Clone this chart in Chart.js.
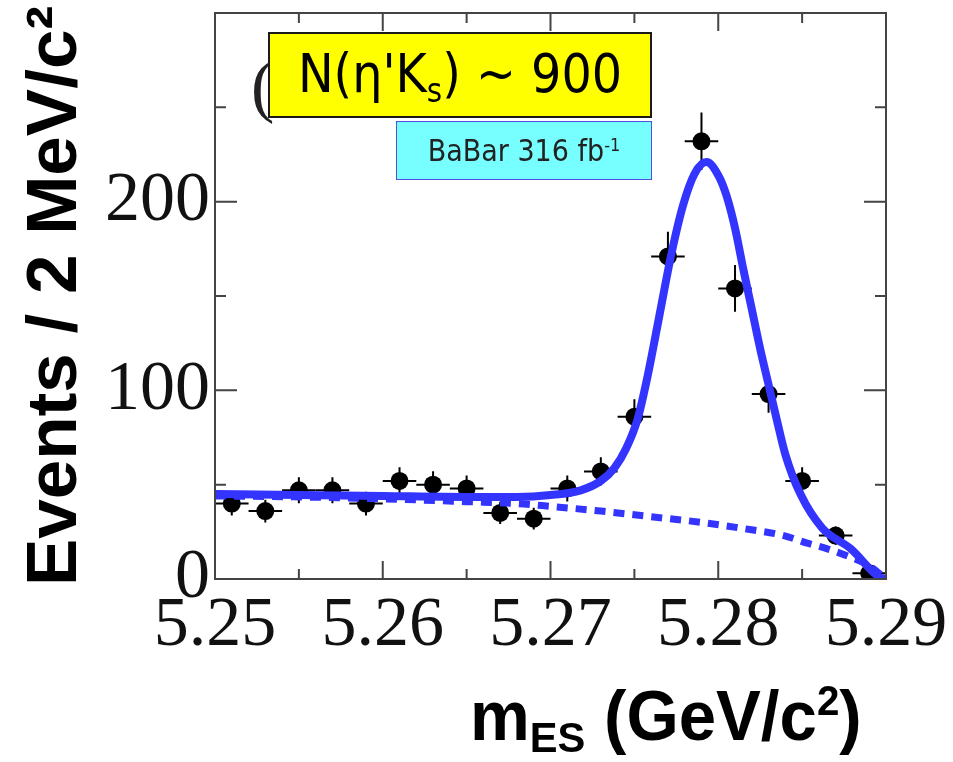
<!DOCTYPE html>
<html>
<head>
<meta charset="utf-8">
<title>mES fit</title>
<script src="https://cdn.jsdelivr.net/npm/chart.js@4.4.0/dist/chart.umd.min.js"></script>
<style>
  body { margin: 0; background: #fff; }
  #wrap { position: relative; width: 953px; height: 762px; overflow: hidden; }
  #mes { position: absolute; left: 0; top: 0; }
  .box {
    position: absolute; box-sizing: border-box; display: flex;
    align-items: center; justify-content: center; white-space: nowrap;
    font-family: "DejaVu Sans Condensed", "DejaVu Sans", sans-serif;
  }
  #yield { left: 268px; top: 32px; width: 384px; height: 86px; background: #ffff00;
           border: 2px solid #1a1a1a; font-size: 53px; color: #000; padding-bottom: 4px; }
  #lumi { left: 396px; top: 121px; width: 256px; height: 59px; background: #77ffff;
          border: 1.5px solid #5050e0; font-size: 30px; color: #222; }
  .box sub { font-size: 0.62em; vertical-align: -0.3em; line-height: 0; }
  .box sup { font-size: 0.6em; vertical-align: 0.55em; line-height: 0; }
  #xtitle { position: absolute; left: 470px; top: 676px; line-height: 70px; white-space: nowrap;
            font: bold 70px "Liberation Sans", Arial, sans-serif; color: #000;
            transform: scaleX(0.96); transform-origin: left top; }
  #xtitle sub { font-size: 0.62em; vertical-align: -0.28em; line-height: 0; }
  #xtitle sup { font-size: 0.6em; vertical-align: 0.6em; line-height: 0; }
  #paren { position: absolute; left: 251px; top: 46px; line-height: 70px;
           font: 70px "Liberation Serif", serif; color: #222; }
</style>
</head>
<body>
<div id="wrap">
  <canvas id="mes" width="953" height="762"></canvas>
  <div id="paren">(</div>
  <div class="box" id="yield"><span>N(η'K<sub>s</sub>) ~ 900</span></div>
  <div class="box" id="lumi"><span>BaBar 316 fb<sup>-1</sup></span></div>
  <div id="xtitle">m<sub>ES</sub> (GeV/c<sup>2</sup>)</div>
</div>
<script>
// 2 MeV bins, events per bin and their errors
let binCenters = [5.251, 5.253, 5.255, 5.257, 5.259, 5.261, 5.263, 5.265, 5.267, 5.269,
                  5.271, 5.273, 5.275, 5.277, 5.279, 5.281, 5.283, 5.285, 5.287, 5.289];
let events = [40, 36, 47, 47, 40, 52, 50, 48, 35, 32, 48, 57, 86, 171, 232, 154, 98, 52, 23, 3];
let eventErrors = [6.3, 6, 6.9, 6.9, 6.3, 7.2, 7.1, 6.9, 5.9, 5.7,
                   6.9, 7.5, 9.3, 13, 15.2, 12.4, 9.9, 7.2, 4.8, 1.7];
let binHalfWidth = 0.001;

// fit curve: signal + background
let fitX = [5.250, 5.255, 5.260, 5.265, 5.268, 5.270, 5.2718, 5.273, 5.2738, 5.2745,
            5.2752, 5.2758, 5.2765, 5.2772, 5.2779, 5.2786, 5.2793, 5.2800, 5.2805, 5.2810,
            5.2815, 5.2820, 5.2825, 5.2830, 5.2835, 5.2840, 5.2849, 5.2862, 5.2879, 5.2896, 5.290];
let fitY = [45, 44.5, 44, 43.5, 43.5, 44.5, 47, 52, 58.7, 69,
            85, 108, 140, 172, 198, 215, 221, 214, 203, 186,
            164, 143, 122, 103, 84, 66, 45, 27, 16, 1, 0];

// background only (dashed)
let bkgX = [5.250, 5.255, 5.260, 5.265, 5.268, 5.270, 5.273, 5.276, 5.279, 5.2813,
            5.2839, 5.2853, 5.2865, 5.2879, 5.289, 5.290];
let bkgY = [44, 43.5, 42.5, 41, 40, 38.5, 36, 33, 30, 27, 23, 19, 16, 11.5, 7, 0];

let xMajor = [5.25, 5.26, 5.27, 5.28, 5.29];
let xMinor = [5.255, 5.265, 5.275, 5.285];
let yMajor = [0, 100, 200];
let yMinor = [50, 150, 250];

const blue = '#3434ff';

function pairs(xs, ys) {
  return xs.map((x, i) => ({ x: x, y: ys[i] }));
}

// error bars under the markers
const errorBars = {
  id: 'errorBars',
  beforeDatasetsDraw(chart) {
    const ctx = chart.ctx, xs = chart.scales.x, ys = chart.scales.y;
    const area = chart.chartArea;
    ctx.save();
    ctx.beginPath();
    ctx.rect(area.left, area.top, area.right - area.left, area.bottom - area.top);
    ctx.clip();
    ctx.strokeStyle = '#000';
    ctx.lineWidth = 2;
    binCenters.forEach((c, i) => {
      const px = xs.getPixelForValue(c);
      const py = ys.getPixelForValue(events[i]);
      ctx.beginPath();
      ctx.moveTo(xs.getPixelForValue(c - binHalfWidth), py);
      ctx.lineTo(xs.getPixelForValue(c + binHalfWidth), py);
      ctx.moveTo(px, ys.getPixelForValue(events[i] + eventErrors[i]));
      ctx.lineTo(px, ys.getPixelForValue(Math.max(0, events[i] - eventErrors[i])));
      ctx.stroke();
    });
    ctx.restore();
  }
};

// closed frame with inward ticks on all four sides
const frame = {
  id: 'frame',
  afterDatasetsDraw(chart) {
    const ctx = chart.ctx, xs = chart.scales.x, ys = chart.scales.y;
    const { left, right, top, bottom } = chart.chartArea;
    ctx.save();
    ctx.strokeStyle = '#444';
    ctx.lineWidth = 2;
    ctx.strokeRect(left, top, right - left, bottom - top);
    ctx.beginPath();
    const xTick = (v, len) => {
      const p = xs.getPixelForValue(v);
      ctx.moveTo(p, bottom); ctx.lineTo(p, bottom - len);
      ctx.moveTo(p, top); ctx.lineTo(p, top + len);
    };
    const yTick = (v, len) => {
      const p = ys.getPixelForValue(v);
      ctx.moveTo(left, p); ctx.lineTo(left + len, p);
      ctx.moveTo(right, p); ctx.lineTo(right - len, p);
    };
    xMajor.forEach(v => xTick(v, 18));
    xMinor.forEach(v => xTick(v, 10));
    yMajor.forEach(v => yTick(v, 22));
    yMinor.forEach(v => yTick(v, 11));
    ctx.stroke();
    ctx.restore();
  }
};

new Chart(document.getElementById('mes'), {
  type: 'scatter',
  data: {
    datasets: [{
      type: 'line',
      data: pairs(fitX, fitY),
      borderColor: blue,
      borderWidth: 8,
      pointRadius: 0,
      fill: false,
      cubicInterpolationMode: 'monotone',
      order: 1
    }, {
      type: 'line',
      data: pairs(bkgX, bkgY),
      borderColor: blue,
      borderWidth: 7,
      borderDash: [11, 8],
      pointRadius: 0,
      fill: false,
      cubicInterpolationMode: 'monotone',
      order: 2
    }, {
      data: pairs(binCenters, events),
      backgroundColor: '#000',
      borderWidth: 0,
      pointRadius: 9,
      order: 3
    }]
  },
  options: {
    responsive: false,
    animation: false,
    layout: { padding: { top: 13, right: 67, left: 0, bottom: 0 } },
    plugins: { legend: { display: false }, tooltip: { enabled: false } },
    scales: {
      x: {
        type: 'linear',
        min: 5.25,
        max: 5.29,
        grid: { display: false, drawTicks: false },
        border: { display: false },
        afterBuildTicks: s => { s.ticks = xMajor.map(v => ({ value: v })); },
        afterFit: s => { s.height = 183; s.paddingLeft = 0; s.paddingRight = 0; },
        ticks: {
          callback: v => v.toFixed(2),
          font: { family: 'Liberation Serif', size: 70 },
          color: '#111',
          padding: 6,
          maxRotation: 0,
          autoSkip: false
        }
      },
      y: {
        min: 0,
        max: 300,
        grid: { display: false, drawTicks: false },
        border: { display: false },
        afterBuildTicks: s => { s.ticks = yMajor.map(v => ({ value: v })); },
        afterFit: s => { s.width = 215; s.paddingTop = 0; s.paddingBottom = 0; },
        ticks: {
          font: { family: 'Liberation Serif', size: 70 },
          color: '#111',
          padding: 5
        },
        title: {
          display: true,
          text: 'Events / 2 MeV/c²',
          font: { family: 'Liberation Sans', weight: 'bold', size: 71 },
          color: '#000',
          padding: { top: 14, bottom: 0 }
        }
      }
    }
  },
  plugins: [errorBars, frame]
});
</script>
</body>
</html>
